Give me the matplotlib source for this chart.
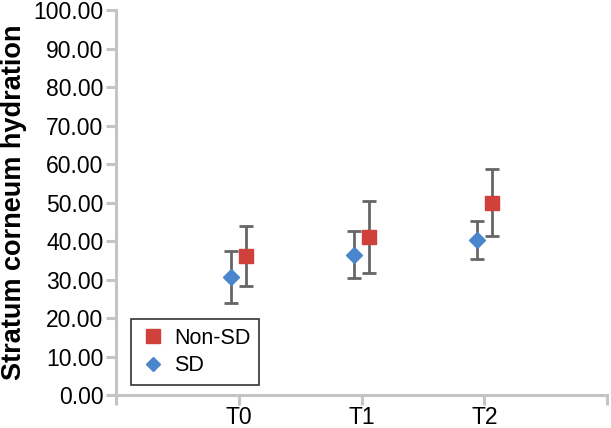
import matplotlib.pyplot as plt
from matplotlib.lines import Line2D

plt.rcParams['font.family'] = ['Liberation Sans', 'DejaVu Sans']

# 数据
categories = ['T0', 'T1', 'T2']
nonsd_mean = [36.2, 41.0, 50.0]
nonsd_err = [7.8, 9.3, 8.6]
sd_mean = [30.7, 36.5, 40.3]
sd_err = [6.8, 6.0, 5.0]

grey = '#c4c4c4'
red = '#d0413c'
blue = '#4a86cc'

fig = plt.figure(figsize=(6.11, 4.28), dpi=100)
ax = fig.add_axes([0.19, 0.077, 0.8035, 0.8996])

pos = list(range(1, len(categories) + 1))
off = 0.06

ax.errorbar([p + off for p in pos], nonsd_mean, yerr=nonsd_err, fmt='s',
            color=red, markersize=10, ecolor='#666666', elinewidth=2,
            capsize=5, capthick=2, zorder=3)
ax.errorbar([p - off for p in pos], sd_mean, yerr=sd_err, fmt='D',
            color=blue, markersize=8, ecolor='#666666', elinewidth=2,
            capsize=5, capthick=2, zorder=3)

ax.set_xlim(0, 4)
ax.set_ylim(0, 100)
ax.set_xticks([0] + pos + [4])
ax.set_xticklabels([''] + categories + [''])
ax.set_yticks(range(0, 101, 10))
ax.set_yticklabels([f"{v:.2f}" for v in range(0, 101, 10)])

for s in ['top', 'right']:
    ax.spines[s].set_visible(False)
for s in ['left', 'bottom']:
    ax.spines[s].set_color(grey)
    ax.spines[s].set_linewidth(2.2)
ax.tick_params(axis='both', color=grey, width=2.2, length=7, labelsize=16.5,
               labelcolor='black', pad=2)
ax.tick_params(axis='x', pad=1)

ax.set_ylabel('Stratum corneum hydration', fontsize=19.5, fontweight='bold',
              labelpad=5)

# 图例（不带误差线）
handles = [Line2D([], [], ls='none', marker='s', color=red, markersize=10),
           Line2D([], [], ls='none', marker='D', color=blue, markersize=7)]
leg = ax.legend(handles, ['Non-SD', 'SD'], loc='lower left',
                bbox_to_anchor=(0.031, 0.026), borderaxespad=0,
                fontsize=15.5, frameon=True, fancybox=False,
                edgecolor='black', handletextpad=0.4, borderpad=0.4,
                handlelength=1.2, labelspacing=0.3)
leg.get_frame().set_linewidth(1.2)

plt.savefig('out.png', dpi=100)
plt.close()
